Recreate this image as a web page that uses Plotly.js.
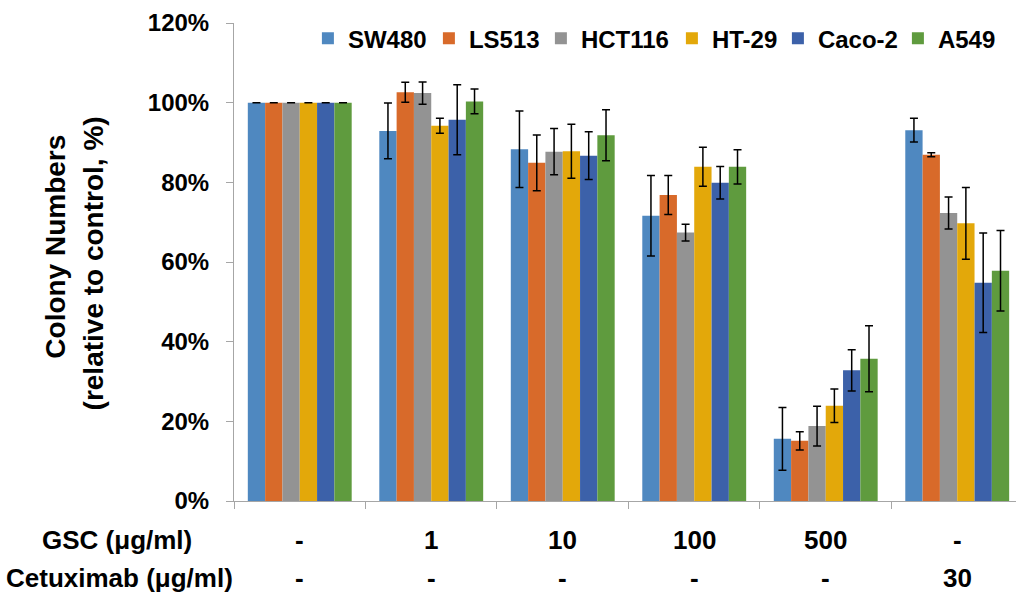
<!DOCTYPE html>
<html>
<head>
<meta charset="utf-8">
<script src="https://cdn.plot.ly/plotly-3.0.1.min.js"></script>
<style>html,body{margin:0;padding:0;background:#fff;}#chart{width:1016px;height:593px;}</style>
</head>
<body>
<div id="chart"></div>
<script>
// Groups (treatments)
var categories = ['Control', 'GSC 1', 'GSC 10', 'GSC 100', 'GSC 500', 'Cetuximab 30'];
var gscLabels = ['-', '1', '10', '100', '500', '-'];
var cetuximabLabels = ['-', '-', '-', '-', '-', '30'];

// Series names
var seriesNames = ['SW480', 'LS513', 'HCT116', 'HT-29', 'Caco-2', 'A549'];

// Colony numbers relative to control (%)
var sw480 = [100, 92.9, 88.3, 71.6, 15.6, 93.1];
var ls513 = [100, 102.6, 84.9, 76.8, 15.1, 86.9];
var hct116 = [100, 102.4, 87.7, 67.4, 18.8, 72.3];
var ht29 = [100, 94.2, 87.8, 83.9, 23.9, 69.7];
var caco2 = [100, 95.7, 86.7, 79.9, 32.8, 54.8];
var a549 = [100, 100.3, 91.8, 83.9, 35.7, 57.8];

// Error bars (±)
var sw480Err = [0, 7.0, 9.6, 10.1, 7.9, 3.0];
var ls513Err = [0, 2.5, 7.0, 4.9, 2.3, 0.5];
var hct116Err = [0, 2.8, 5.8, 2.1, 5.0, 4.0];
var ht29Err = [0, 1.9, 6.8, 4.9, 4.2, 9.0];
var caco2Err = [0, 8.8, 6.0, 4.1, 5.2, 12.5];
var a549Err = [0, 3.1, 6.4, 4.3, 8.3, 10.1];

var seriesValues = [sw480, ls513, hct116, ht29, caco2, a549];
var seriesErrors = [sw480Err, ls513Err, hct116Err, ht29Err, caco2Err, a549Err];
var colors = ['#4F88C0', '#D86A2A', '#939393', '#E3A80A', '#3C61A9', '#5F9B3E'];
var legendWidths = [76, 67, 86, 61, 75, 57];

var FONT = 'Liberation Sans, Arial, Helvetica, sans-serif';

var traces = seriesNames.map(function (name, i) {
  return {
    type: 'bar',
    name: name,
    x: categories,
    y: seriesValues[i],
    legendwidth: legendWidths[i],
    marker: { color: colors[i], line: { width: 0 } },
    error_y: { type: 'data', array: seriesErrors[i], visible: true, color: '#000', thickness: 1.5, width: 4 }
  };
});

var rowFont = { family: FONT, size: 26, color: '#000', weight: 'bold' };
var titleFont = { family: FONT, size: 28, color: '#000', weight: 'bold' };
var annotations = [];
categories.forEach(function (c, i) {
  annotations.push({ x: c, xref: 'x', y: -0.0816, yref: 'paper', text: gscLabels[i], showarrow: false,
    xanchor: 'center', yanchor: 'middle', font: rowFont });
  annotations.push({ x: c, xref: 'x', y: -0.161, yref: 'paper', text: cetuximabLabels[i], showarrow: false,
    xanchor: 'center', yanchor: 'middle', font: rowFont });
});
annotations.push({ x: -0.149, xref: 'paper', y: -0.0816, yref: 'paper', text: 'GSC (μg/ml)', showarrow: false,
  xanchor: 'center', yanchor: 'middle', font: rowFont });
annotations.push({ x: -0.146, xref: 'paper', y: -0.161, yref: 'paper', text: 'Cetuximab (μg/ml)', showarrow: false,
  xanchor: 'center', yanchor: 'middle', font: rowFont });
annotations.push({ x: -0.2283, xref: 'paper', y: 0.533, yref: 'paper', text: 'Colony Numbers',
  showarrow: false, textangle: -90, xanchor: 'center', yanchor: 'middle', font: titleFont });
annotations.push({ x: -0.1797, xref: 'paper', y: 0.498, yref: 'paper', text: '(relative to control, %)',
  showarrow: false, textangle: -90, xanchor: 'center', yanchor: 'middle', font: titleFont });

var layout = {
  width: 1016, height: 593,
  margin: { l: 234, r: 0, t: 23, b: 92, pad: 0, autoexpand: false },
  paper_bgcolor: '#fff', plot_bgcolor: '#fff',
  font: { family: FONT, size: 24, color: '#000', weight: 'bold' },
  barmode: 'group', bargap: 0.21, bargroupgap: 0,
  showlegend: true,
  legend: { orientation: 'h', x: 0.0945, xanchor: 'left', y: 0.967, yanchor: 'middle',
    font: { family: FONT, size: 24, color: '#000', weight: 'bold' }, bgcolor: 'rgba(0,0,0,0)', borderwidth: 0 },
  xaxis: {
    type: 'category', autorange: false, range: [-0.5, 5.447], showticklabels: false,
    ticks: 'outside', tickson: 'boundaries', ticklen: 7, tickcolor: '#A6A6A6', tickwidth: 1,
    showline: true, linecolor: '#A6A6A6', linewidth: 1, showgrid: false, zeroline: false, fixedrange: true
  },
  yaxis: {
    autorange: false, range: [0, 120], dtick: 20, tick0: 0, ticksuffix: '%', showgrid: false, zeroline: false,
    showline: true, linecolor: '#A6A6A6', linewidth: 1, ticks: 'outside', ticklen: 7, tickcolor: '#A6A6A6',
    ticklabelstandoff: 12,
    tickfont: { family: FONT, size: 24, color: '#000', weight: 'bold' }, fixedrange: true
  },
  annotations: annotations
};

Plotly.newPlot('chart', traces, layout, { displayModeBar: false, staticPlot: true });
</script>
</body>
</html>
